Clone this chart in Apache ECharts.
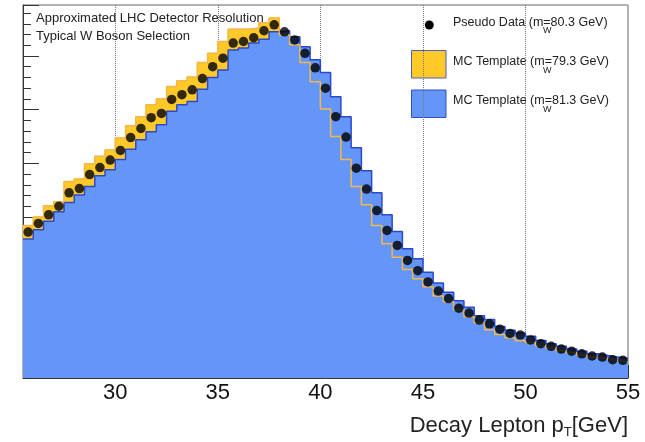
<!DOCTYPE html>
<html><head><meta charset="utf-8">
<script src="https://cdn.jsdelivr.net/npm/echarts@6/dist/echarts.min.js"></script>
<style>html,body{margin:0;padding:0;background:#fff}#c{width:645px;height:442px}</style>
</head><body><div id="c"></div>
<script>
// Bin edges of the decay-lepton pT histogram (GeV)
const binEdges = [25.5,26,26.5,27,27.5,28,28.5,29,29.5,30,30.5,31,31.5,32,32.5,33,33.5,34,34.5,35,35.5,36,36.5,37,37.5,38,38.5,39,39.5,40,40.5,41,41.5,42,42.5,43,43.5,44,44.5,45,45.5,46,46.5,47,47.5,48,48.5,49,49.5,50,50.5,51,51.5,52,52.5,53,53.5,54,54.5,55];
// Pseudo data (mW = 80.3 GeV)
const pseudoData = [27.2,28.8,30.4,32.0,34.5,35.3,37.9,39.2,40.6,42.4,44.8,46.5,48.5,49.3,51.9,52.8,53.7,55.8,58.0,59.6,62.4,62.7,63.4,64.7,65.8,64.5,63.0,60.5,57.8,54.0,48.7,44.9,39.1,35.2,31.2,27.5,24.7,21.9,20.0,17.9,16.2,14.8,13.0,12.1,10.8,10.1,9.1,8.3,8.0,7.1,6.4,5.9,5.4,5.0,4.5,4.1,3.9,3.4,3.3];
// MC template (mW = 79.3 GeV)
const mc793 = [28.4,30.0,32.1,32.8,36.6,37.1,39.9,41.3,42.5,44.7,47.0,48.7,50.9,52.0,54.3,55.4,56.1,58.8,60.5,62.7,65.0,65.0,65.2,66.2,67.1,63.9,62.1,58.8,55.2,50.1,45.0,40.7,35.7,32.3,28.4,25.0,22.5,20.2,18.5,17.0,15.3,14.2,12.7,11.4,10.3,9.0,8.1,7.5,7.0,6.6,6.0,5.6,5.1,4.7,4.3,3.9,3.6,3.3,3.0];
// MC template (mW = 81.3 GeV)
const mc813 = [25.9,27.6,29.2,31.0,32.7,34.1,35.7,37.7,38.8,40.7,42.6,44.4,45.9,47.2,49.7,50.9,51.5,53.8,56.0,57.4,61.1,61.5,62.4,63.1,64.5,64.7,63.6,61.7,59.3,56.9,52.4,48.7,42.9,38.6,34.5,30.4,27.3,24.1,22.2,19.7,17.7,16.0,14.4,13.2,11.6,10.9,9.6,8.9,8.4,7.8,7.0,6.4,5.9,5.4,5.0,4.5,4.2,3.9,3.7];
// Axis ticks
const xMajorTicks = [30,35,40,45,50,55];
const xMinorTicks = [26,27,28,29,31,32,33,34,36,37,38,39,41,42,43,44,46,47,48,49,51,52,53,54];
const xGridLines = [30,35,40,45,50];
const yRange = [0, 69.5];
const yMajorStep = 10;

function stepPoints(vals){
  const pts=[];
  vals.forEach((v,i)=>{ pts.push([binEdges[i],v]); pts.push([binEdges[i+1],v]); });
  return pts;
}
function centerPoints(vals){
  return vals.map((v,i)=>[(binEdges[i]+binEdges[i+1])/2, v]);
}

const FONT = '"Liberation Sans", Arial, Helvetica, sans-serif';
const chart = echarts.init(document.getElementById('c'));
const YEL = '#ffc928', YEL_LINE = '#f3b74c', BLUE = '#6496f8', BLUE_LINE = '#2c48cc';

chart.setOption({
  animation:false,
  grid:{left:23,right:17,top:5,bottom:64,show:true,borderColor:'#666',borderWidth:1,backgroundColor:'transparent'},
  xAxis:[{
    type:'value',min:binEdges[0],max:binEdges[binEdges.length-1],position:'bottom',
    axisLine:{show:true,onZero:false,lineStyle:{color:'#333',width:1}},
    axisTick:{show:true,inside:true,length:13,customValues:xMajorTicks,lineStyle:{color:'#333'}},
    axisLabel:{show:true,customValues:xMajorTicks,fontSize:22,fontFamily:FONT,color:'#111',margin:4},
    splitLine:{show:false}
  },{
    type:'value',min:binEdges[0],max:binEdges[binEdges.length-1],position:'bottom',
    axisLine:{show:false},
    axisTick:{show:true,inside:true,length:6,customValues:xMinorTicks,lineStyle:{color:'#333'}},
    axisLabel:{show:false},splitLine:{show:false}
  }],
  yAxis:{
    type:'value',min:yRange[0],max:yRange[1],interval:yMajorStep,
    axisLine:{show:true,onZero:false,lineStyle:{color:'#333',width:1}},
    axisTick:{show:true,inside:true,length:16,lineStyle:{color:'#333'}},
    minorTick:{show:true,splitNumber:5,length:8,lineStyle:{color:'#333'}},
    axisLabel:{show:false},splitLine:{show:false}
  },
  series:[
    {type:'line',data:[],z:1,silent:true,
     markLine:{silent:true,z:1,zlevel:0,symbol:'none',label:{show:false},animation:false,
       lineStyle:{color:'#777',type:'dotted',width:1},
       data:xGridLines.map(v=>({xAxis:v}))}},
    {name:'mc793fill',type:'line',data:stepPoints(mc793),z:10,showSymbol:false,symbol:'none',
     lineStyle:{color:YEL,width:1},areaStyle:{color:YEL,opacity:1}},
    {name:'mc813fill',type:'line',data:stepPoints(mc813),z:11,showSymbol:false,symbol:'none',
     lineStyle:{color:BLUE_LINE,width:1.5},areaStyle:{color:BLUE,opacity:1}},
    {name:'mc793line',type:'line',data:stepPoints(mc793),z:12,showSymbol:false,symbol:'none',
     lineStyle:{color:YEL_LINE,width:1.5}},
    {name:'data',type:'scatter',data:centerPoints(pseudoData),z:13,symbol:'circle',symbolSize:9.5,
     itemStyle:{color:'#000'}}
  ],
  graphic:[
    {type:'text',x:36,y:18,z:20,style:{text:'Approximated LHC Detector Resolution',font:'13px '+FONT,fill:'#222',verticalAlign:'middle'}},
    {type:'text',x:36,y:36,z:20,style:{text:'Typical W Boson Selection',font:'13px '+FONT,fill:'#222',verticalAlign:'middle'}},
    {type:'circle',shape:{cx:429.3,cy:25,r:4.5},style:{fill:'#000'}},
    {type:'text',x:453,y:22.5,style:{text:'Pseudo Data (m=80.3 GeV)',font:'12.5px '+FONT,fill:'#222',verticalAlign:'middle'}},
    {type:'text',x:543,y:30.5,style:{text:'W',font:'9px '+FONT,fill:'#222',verticalAlign:'middle'}},
    {type:'rect',shape:{x:411.5,y:50.5,width:34.5,height:27.5},style:{fill:YEL,stroke:'#4c5fc0',lineWidth:1}},
    {type:'text',x:453,y:62,style:{text:'MC Template (m=79.3 GeV)',font:'12.5px '+FONT,fill:'#222',verticalAlign:'middle'}},
    {type:'text',x:543,y:70.5,style:{text:'W',font:'9px '+FONT,fill:'#222',verticalAlign:'middle'}},
    {type:'rect',shape:{x:411.5,y:90,width:34.5,height:27.5},style:{fill:BLUE,stroke:'#3050c8',lineWidth:1}},
    {type:'text',x:453,y:101,style:{text:'MC Template (m=81.3 GeV)',font:'12.5px '+FONT,fill:'#222',verticalAlign:'middle'}},
    {type:'text',x:543,y:109.5,style:{text:'W',font:'9px '+FONT,fill:'#222',verticalAlign:'middle'}},
    {type:'text',x:628,y:426,style:{
      text:'{a|Decay Lepton p}{s|T}{a|[GeV]}',align:'right',verticalAlign:'middle',
      rich:{a:{fontSize:22,fontFamily:FONT,fill:'#222'},s:{fontSize:13,fontFamily:FONT,fill:'#222',padding:[12,0,0,0]}}}}
  ]
});
</script></body></html>
